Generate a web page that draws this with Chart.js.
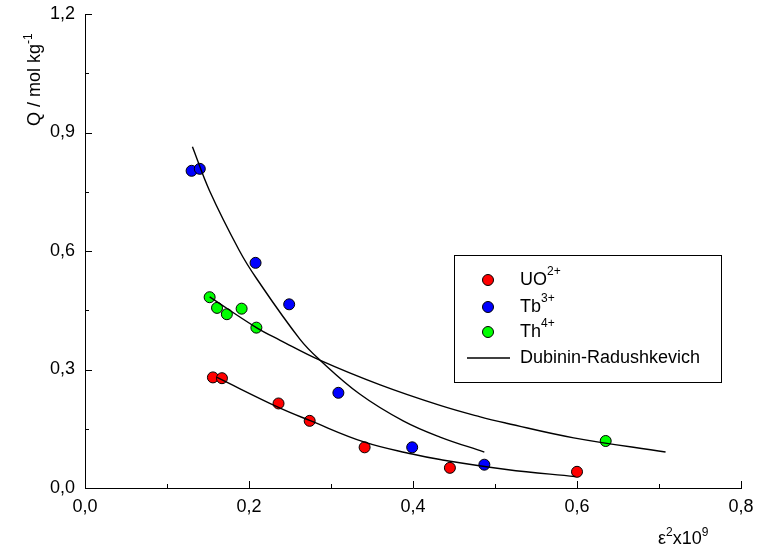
<!DOCTYPE html>
<html>
<head>
<meta charset="utf-8">
<script src="https://cdn.jsdelivr.net/npm/chart.js@4"></script>
<style>
  body { margin: 0; background: #fff; }
  canvas { display: block; }
</style>
</head>
<body>
<canvas id="chart" width="760" height="552"></canvas>
<script>
// measured points
const uoX = [0.156, 0.167, 0.236, 0.274, 0.341, 0.445, 0.600];
const uoY = [0.280, 0.278, 0.214, 0.170, 0.103, 0.051, 0.041];
const tbX = [0.130, 0.140, 0.208, 0.249, 0.309, 0.399, 0.487];
const tbY = [0.803, 0.808, 0.570, 0.465, 0.241, 0.103, 0.059];
const thX = [0.152, 0.161, 0.173, 0.191, 0.209, 0.635];
const thY = [0.483, 0.456, 0.440, 0.454, 0.406, 0.119];

// Dubinin-Radushkevich curves
const drUoX = [0.161, 0.236, 0.274, 0.341, 0.399, 0.433, 0.514, 0.598];
const drUoY = [0.280, 0.204, 0.171, 0.116, 0.086, 0.072, 0.047, 0.029];
const drTbX = [0.131, 0.152, 0.188, 0.209, 0.262, 0.287, 0.335, 0.388, 0.433, 0.487];
const drTbY = [0.864, 0.752, 0.602, 0.531, 0.377, 0.323, 0.238, 0.170, 0.129, 0.091];
const drThX = [0.152, 0.209, 0.238, 0.287, 0.360, 0.433, 0.482, 0.514, 0.596, 0.708];
const drThY = [0.484, 0.406, 0.374, 0.323, 0.261, 0.209, 0.180, 0.164, 0.127, 0.091];

const xTicks = [0, 0.2, 0.4, 0.6, 0.8];
const yTicks = [0, 0.3, 0.6, 0.9, 1.2];

const FONT = '"Liberation Sans", Arial, sans-serif';
const pts = (xs, ys) => xs.map((x, i) => ({ x: x, y: ys[i] }));
const fmt = v => v.toFixed(1).replace('.', ',');

function scatterSet(label, xs, ys, color) {
    return {
        type: 'scatter', label: label, data: pts(xs, ys), order: 1,
        backgroundColor: color, borderColor: '#000', borderWidth: 1,
        pointRadius: 5.5, pointHoverRadius: 5.5
    };
}
function curveSet(xs, ys) {
    return {
        type: 'line', label: 'Dubinin-Radushkevich', data: pts(xs, ys), order: 0,
        borderColor: '#000', borderWidth: 1.4, pointRadius: 0, fill: false,
        tension: 0.4
    };
}

// draw text with superscript parts: [[text, sup], ...]
function richText(ctx, parts, x, y) {
    let cx = x;
    parts.forEach(p => {
        ctx.font = (p[1] ? '12px ' : '18px ') + FONT;
        ctx.fillText(p[0], cx, p[1] ? y - 8 : y);
        cx += ctx.measureText(p[0]).width;
    });
}

const decorPlugin = {
    id: 'decor',
    afterDraw(chart) {
        const ctx = chart.ctx;
        const xs = chart.scales.x, ys = chart.scales.y;
        const area = chart.chartArea;
        ctx.save();
        ctx.strokeStyle = '#000';
        ctx.fillStyle = '#000';
        ctx.lineWidth = 1;
        // inner ticks
        ctx.beginPath();
        for (let i = 0; i <= 8; i++) {
            const px = Math.round(xs.getPixelForValue(i / 10)) + 0.5;
            const len = i % 2 === 0 ? 7 : 4;
            ctx.moveTo(px, area.bottom);
            ctx.lineTo(px, area.bottom - len);
        }
        for (let i = 0; i <= 8; i++) {
            const py = Math.round(ys.getPixelForValue(i * 0.15)) + 0.5;
            const len = i % 2 === 0 ? 7 : 4;
            ctx.moveTo(area.left, py);
            ctx.lineTo(area.left + len, py);
        }
        ctx.stroke();

        // legend
        ctx.strokeRect(454.5, 255.5, 267, 127);
        const rows = [280, 307, 332, 358];
        const cols = ['#ff0000', '#0000ff', '#00ff00'];
        ctx.textBaseline = 'middle';
        ctx.textAlign = 'left';
        cols.forEach((c, i) => {
            ctx.beginPath();
            ctx.arc(488, rows[i], 5.5, 0, Math.PI * 2);
            ctx.fillStyle = c;
            ctx.fill();
            ctx.stroke();
        });
        ctx.fillStyle = '#000';
        richText(ctx, [['UO', false], ['2+', true]], 520, rows[0]);
        richText(ctx, [['Tb', false], ['3+', true]], 520, rows[1]);
        richText(ctx, [['Th', false], ['4+', true]], 520, rows[2]);
        richText(ctx, [['Dubinin-Radushkevich', false]], 520, rows[3]);
        ctx.lineWidth = 1.4;
        ctx.beginPath();
        ctx.moveTo(467, rows[3]);
        ctx.lineTo(510, rows[3]);
        ctx.stroke();

        // axis titles
        ctx.textBaseline = 'alphabetic';
        richText(ctx, [['\u03B5', false], ['2', true], ['x10', false], ['9', true]], 658, 544);
        ctx.translate(40, 126);
        ctx.rotate(-Math.PI / 2);
        richText(ctx, [['Q / mol kg', false], ['-1', true]], 0, 0);
        ctx.restore();
    }
};

const chart = new Chart(document.getElementById('chart').getContext('2d'), {
    data: {
        datasets: [
            scatterSet('UO2+', uoX, uoY, '#ff0000'),
            scatterSet('Tb3+', tbX, tbY, '#0000ff'),
            scatterSet('Th4+', thX, thY, '#00ff00'),
            curveSet(drUoX, drUoY),
            curveSet(drTbX, drTbY),
            curveSet(drThX, drThY)
        ]
    },
    options: {
        responsive: false,
        animation: false,
        devicePixelRatio: 1,
        layout: { autoPadding: false, padding: { top: 14, right: 19, left: 0, bottom: 0 } },
        plugins: { legend: { display: false }, tooltip: { enabled: false } },
        scales: {
            x: {
                type: 'linear', min: 0, max: 0.8,
                afterBuildTicks: s => { s.ticks = xTicks.map(v => ({ value: v })); },
                afterFit: s => { s.height = 64; s.paddingLeft = 0; s.paddingRight = 0; },
                ticks: { callback: fmt, color: '#000', font: { family: FONT, size: 18 }, padding: 8, maxRotation: 0 },
                grid: { drawOnChartArea: false, drawTicks: false },
                border: { color: '#000', width: 1 }
            },
            y: {
                type: 'linear', min: 0, max: 1.2,
                afterBuildTicks: s => { s.ticks = yTicks.map(v => ({ value: v })); },
                afterFit: s => { s.width = 85; s.paddingTop = 0; s.paddingBottom = 0; },
                ticks: { callback: fmt, color: '#000', font: { family: FONT, size: 18 }, padding: 10 },
                grid: { drawOnChartArea: false, drawTicks: false },
                border: { color: '#000', width: 1 }
            }
        }
    },
    plugins: [decorPlugin]
});
</script>
</body>
</html>
